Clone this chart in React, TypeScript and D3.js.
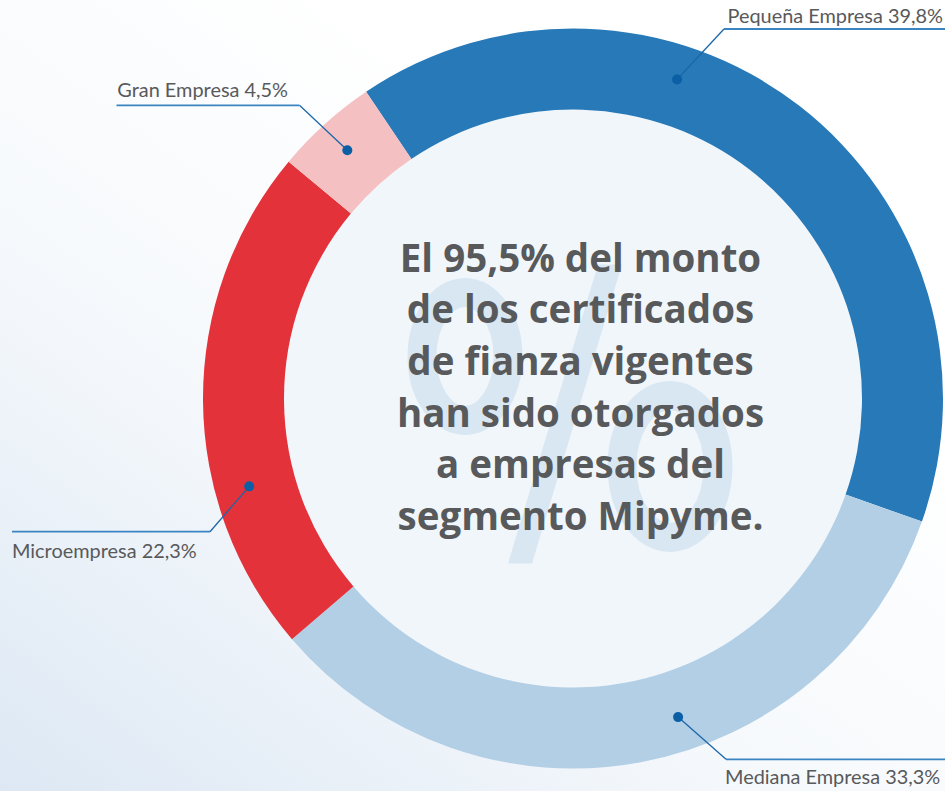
import React from "react";
import * as d3 from "d3";

const categories = ["Pequeña Empresa", "Mediana Empresa", "Microempresa", "Gran Empresa"];
const shares = [39.8, 33.3, 22.3, 4.5];
const shareLabels = ["39,8%", "33,3%", "22,3%", "4,5%"];
const colors = ["#2779b8", "#b3cfe5", "#e4323a", "#f5c0c2"];
const headline = [
  "El 95,5% del monto",
  "de los certificados",
  "de fianza vigentes",
  "han sido otorgados",
  "a empresas del",
  "segmento Mipyme.",
];

// layout for callouts (positions only)
const dotFraction = [0.363, 0.436, 0.316, 0.49];
const calloutLayout = [
  { ex: 724, ey: 29, lx: 945, tx: 727.5, ty: 23.3 },
  { ex: 726, ey: 759.3, lx: 945, tx: 725, ty: 784 },
  { ex: 210, ey: 531.7, lx: 12, tx: 12, ty: 558.3 },
  { ex: 299.5, ey: 105.3, lx: 116.5, tx: 117.3, ty: 97.3 },
];

const W = 945;
const H = 791;
const cx = 573;
const cy = 398.5;
const R = 370;
const r = 289;

export default function App() {
  const pie = d3
    .pie<number>()
    .sort(null)
    .value((d) => d)
    .startAngle((-34 * Math.PI) / 180)
    .endAngle((-34 * Math.PI) / 180 + 2 * Math.PI);
  const arcs = pie(shares);
  const arcGen = d3.arc<d3.PieArcDatum<number>>().innerRadius(r).outerRadius(R);
  const dotR = (R + r) / 2 + 6;
  const wm = "#d9e7f3";

  return (
    <svg
      width={W}
      height={H}
      viewBox={`0 0 ${W} ${H}`}
      style={{ position: "fixed", left: 0, top: 0, display: "block" }}
    >
      <defs>
        <linearGradient id="bg" x1="0" y1="1" x2="0.65" y2="0.25">
          <stop offset="0" stopColor="#dde8f4" />
          <stop offset="0.55" stopColor="#f6f9fc" />
          <stop offset="1" stopColor="#ffffff" />
        </linearGradient>
      </defs>
      <rect x={0} y={0} width={W} height={H} fill="url(#bg)" />
      <circle cx={cx} cy={cy} r={r} fill="#f1f6fb" />
      {/* decorative percent watermark */}
      <g fill="none" stroke={wm} strokeWidth={29}>
        <ellipse cx={cx - 108} cy={cy - 42} rx={43} ry={64} />
        <ellipse cx={cx + 97} cy={cy + 68} rx={48} ry={71} />
      </g>
      <polygon
        points={`${cx + 25},${cy - 134} ${cx + 49},${cy - 134} ${cx - 41},${cy + 165} ${cx - 65},${cy + 165}`}
        fill={wm}
      />
      <g transform={`translate(${cx},${cy})`}>
        {arcs.map((a, i) => (
          <path key={categories[i]} d={arcGen(a) || ""} fill={colors[i]} />
        ))}
      </g>
      {headline.map((line, i) => (
        <text
          key={line}
          x={580.5}
          y={271.7 + i * 51.66}
          textAnchor="middle"
          fontFamily="'Open Sans', sans-serif"
          fontWeight={700}
          fontSize={38.5}
          fill="#58595b"
        >
          {line}
        </text>
      ))}
      {arcs.map((a, i) => {
        const ang = a.startAngle + (a.endAngle - a.startAngle) * dotFraction[i];
        const dx = cx + dotR * Math.sin(ang);
        const dy = cy - dotR * Math.cos(ang);
        const L = calloutLayout[i];
        return (
          <g key={"c" + i}>
            <path
              d={`M${dx},${dy}L${L.ex},${L.ey}`}
              stroke="#1a67aa"
              strokeWidth={1.3}
              fill="none"
            />
            <path
              d={`M${L.ex},${L.ey}L${L.lx},${L.ey}`}
              stroke="#3a84c2"
              strokeWidth={1.8}
              fill="none"
            />
            <circle cx={dx} cy={dy} r={5} fill="#0b5fa5" />
            <text
              x={L.tx}
              y={L.ty}
              fontFamily="Lato, sans-serif"
              fontSize={19.9}
              fill="#58595b"
            >
              {categories[i]} {shareLabels[i]}
            </text>
          </g>
        );
      })}
    </svg>
  );
}
